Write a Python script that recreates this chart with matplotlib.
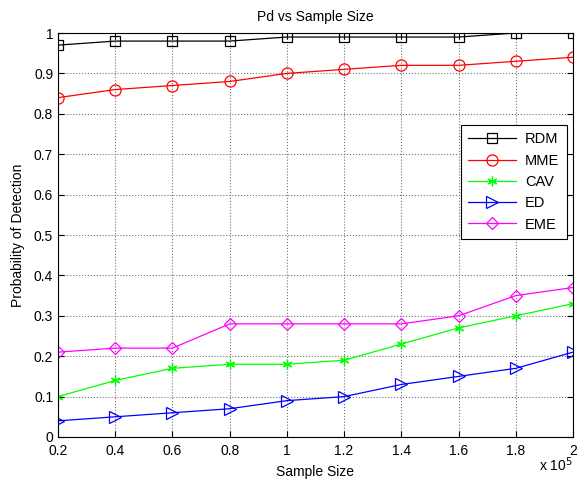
"""Pd vs sample size for five detectors"""
import matplotlib
matplotlib.use("Agg")
import matplotlib.pyplot as plt
import numpy as np

plt.rcParams['font.family'] = ['Liberation Sans', 'DejaVu Sans']

sample_size = [0.2, 0.4, 0.6, 0.8, 1.0, 1.2, 1.4, 1.6, 1.8, 2.0]  # x 10^5
pd_rdm = [0.97, 0.98, 0.98, 0.98, 0.99, 0.99, 0.99, 0.99, 1.00, 1.00]
pd_mme = [0.84, 0.86, 0.87, 0.88, 0.90, 0.91, 0.92, 0.92, 0.93, 0.94]
pd_cav = [0.10, 0.14, 0.17, 0.18, 0.18, 0.19, 0.23, 0.27, 0.30, 0.33]
pd_ed = [0.04, 0.05, 0.06, 0.07, 0.09, 0.10, 0.13, 0.15, 0.17, 0.21]
pd_eme = [0.21, 0.22, 0.22, 0.28, 0.28, 0.28, 0.28, 0.30, 0.35, 0.37]

# matlab-style asterisk
ASTERISK = (6, 2, 0)

series = [
    ("RDM", pd_rdm, "k", "s", 7),
    ("MME", pd_mme, "r", "o", 8),
    ("CAV", pd_cav, "#00ff00", ASTERISK, 7),
    ("ED", pd_ed, "b", ">", 8),
    ("EME", pd_eme, "#ff00ff", "D", 6),
]

fig = plt.figure(figsize=(5.8, 4.86), dpi=100)
ax = fig.add_axes([58 / 580, 1 - 437 / 486, 515 / 580, 404 / 486])

for label, values, color, marker, ms in series:
    ax.plot(sample_size, values, color=color, marker=marker, lw=0.9,
            markersize=ms, markerfacecolor='none', markeredgecolor=color,
            markeredgewidth=0.9, label=label)

ax.set_xlim(0.2, 2)
ax.set_ylim(0, 1)
ax.set_xticks(sample_size)
ax.set_xticklabels(["0.2", "0.4", "0.6", "0.8", "1", "1.2", "1.4", "1.6", "1.8", "2"])
ax.set_yticks(np.arange(0, 1.01, 0.1))
ax.set_yticklabels(["0", "0.1", "0.2", "0.3", "0.4", "0.5", "0.6", "0.7", "0.8", "0.9", "1"])
ax.tick_params(direction='in', top=True, right=True, labelsize=10, length=4)
ax.tick_params(axis='x', pad=5)
ax.grid(True, color='0.45', ls=':', lw=0.8)
for spine in ax.spines.values():
    spine.set_linewidth(0.8)

ax.set_xlabel('Sample Size', fontsize=10, labelpad=5)
ax.set_ylabel('Probability of Detection', fontsize=10, labelpad=6)
ax.set_title('Pd vs Sample Size', fontsize=10, pad=9)
ax.text(1.0, -0.045, r'x 10$^5$', transform=ax.transAxes, ha='right',
        va='top', fontsize=10)

leg = ax.legend(loc='upper right', bbox_to_anchor=(1.002, 0.79),
                fancybox=False, framealpha=1, edgecolor='k', fontsize=10.5,
                handlelength=3.3, borderpad=0.5, labelspacing=0.5,
                handletextpad=0.6)
leg.get_frame().set_linewidth(0.8)

fig.savefig("out.png", dpi=100)
